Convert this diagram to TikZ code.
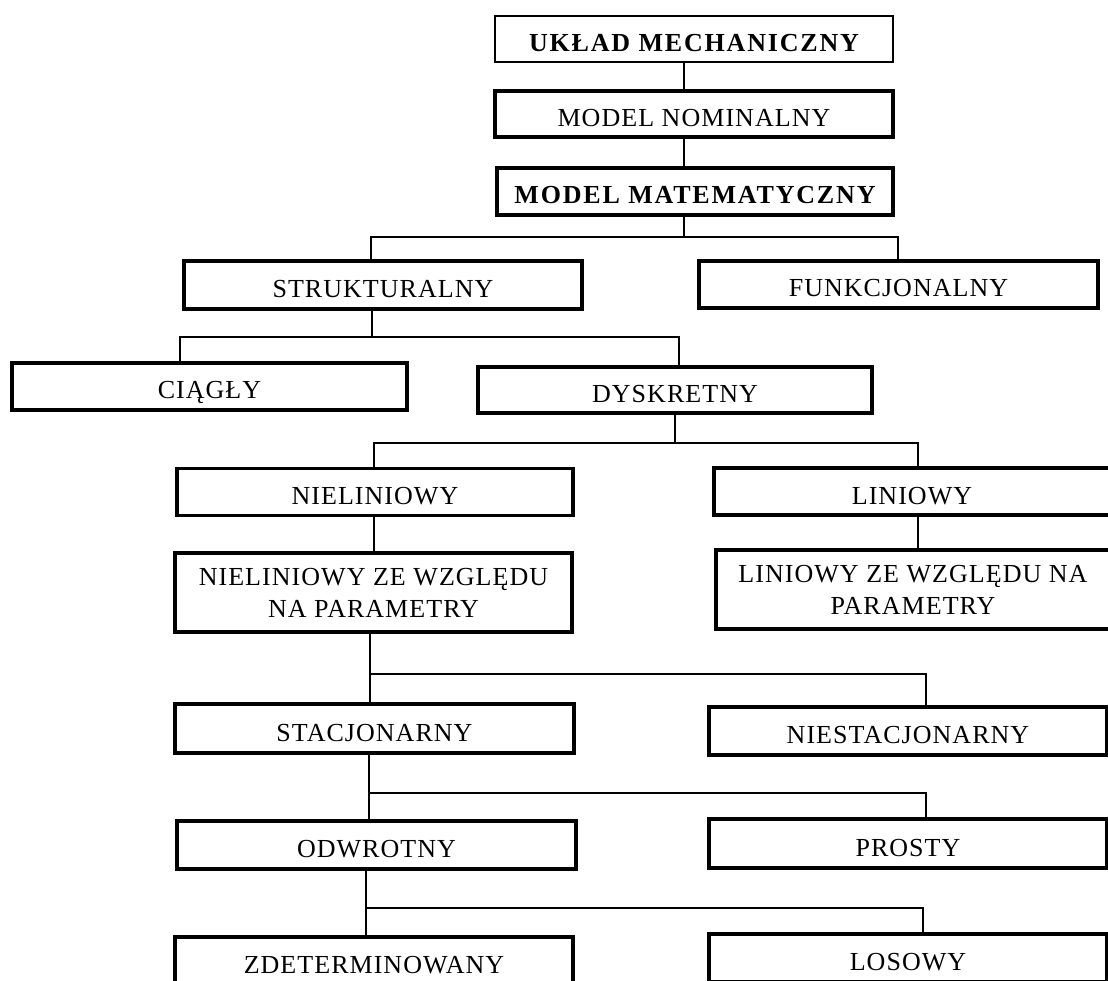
\documentclass[tikz,border=0pt]{standalone}
\usepackage{fontspec}
\setmainfont{Liberation Serif}[LetterSpace=4]
\newfontfamily\boldspaced{Liberation Serif}[LetterSpace=7]
\begin{document}
\begin{tikzpicture}[x=1pt,y=-1pt,
  box/.style={draw, rectangle, line width=3.1pt, inner sep=0pt,
    font=\fontsize{26}{31}\selectfont, text height=25pt, text depth=0pt},
  headbox/.style={box, font=\fontsize{26}{31}\boldspaced\bfseries},
  twobox/.style={draw, rectangle, line width=3.1pt, inner sep=0pt,
    font=\fontsize{26}{32}\selectfont, align=center},
  conn/.style={line width=1.6pt}]
\useasboundingbox (0,0) rectangle (1108,981);
\clip (0,0) rectangle (1108,981);

% boxes
\node[headbox, line width=2.7pt, minimum width=398, minimum height=46] (ukl) at (694,39) {UKŁAD MECHANICZNY};
\node[box, minimum width=398, minimum height=46] (nom) at (694,114) {MODEL NOMINALNY};
\node[headbox, minimum width=396, minimum height=47] (mat) at (695,191.5) {MODEL MATEMATYCZNY};
\node[box, minimum width=398, minimum height=48] (str) at (383,285) {STRUKTURALNY};
\node[box, minimum width=399, minimum height=47] (fun) at (898.5,284.5) {FUNKCJONALNY};
\node[box, minimum width=395, minimum height=47] (cia) at (209.5,386.5) {CIĄGŁY};
\node[box, minimum width=394, minimum height=46] (dys) at (675,390) {DYSKRETNY};
\node[box, minimum width=396, minimum height=47] (nie) at (375,492) {NIELINIOWY};
\node[box, minimum width=396, minimum height=47] (lin) at (912,491.5) {LINIOWY};
\node[twobox, minimum width=397, minimum height=79] (niep) at (373.5,592.5) {NIELINIOWY ZE WZGLĘDU\\NA PARAMETRY};
\node[twobox, minimum width=394, minimum height=79] (linp) at (913,589.5) {LINIOWY ZE WZGLĘDU NA\\PARAMETRY};
\node[box, minimum width=399, minimum height=49] (sta) at (374.5,728.5) {STACJONARNY};
\node[box, minimum width=398, minimum height=48] (nst) at (908,731) {NIESTACJONARNY};
\node[box, minimum width=399, minimum height=48] (odw) at (376.5,845) {ODWROTNY};
\node[box, minimum width=398, minimum height=49] (pro) at (908,843.5) {PROSTY};
\node[box, minimum width=398, minimum height=48] (zde) at (374,961) {ZDETERMINOWANY};
\node[box, minimum width=398, minimum height=48] (los) at (908,958) {LOSOWY};

% junction points of the tree
\coordinate (t0) at (684,0);
\coordinate (j1) at (684,237);
\coordinate (a1) at (371,237);
\coordinate (b1) at (898,237);
\coordinate (j2) at (372,337);
\coordinate (a2) at (180,337);
\coordinate (b2) at (679,337);
\coordinate (j3) at (675,443);
\coordinate (a3) at (374,443);
\coordinate (b3) at (918,443);
\coordinate (j4) at (370,674);
\coordinate (b4) at (926,674);
\coordinate (j5) at (369,793);
\coordinate (b5) at (926,793);
\coordinate (j6) at (366,908);
\coordinate (b6) at (923,908);

% connectors
\draw[conn] (t0 |- ukl.south) -- (t0 |- nom.north);
\draw[conn] (t0 |- nom.south) -- (t0 |- mat.north);
\draw[conn] (j1 |- mat.south) -- (j1);
\draw[conn] (a1 |- str.north) -- (a1) -- (b1) -- (b1 |- fun.north);
\draw[conn] (j2 |- str.south) -- (j2);
\draw[conn] (a2 |- cia.north) -- (a2) -- (b2) -- (b2 |- dys.north);
\draw[conn] (j3 |- dys.south) -- (j3);
\draw[conn] (a3 |- nie.north) -- (a3) -- (b3) -- (b3 |- lin.north);
\draw[conn] (a3 |- nie.south) -- (a3 |- niep.north);
\draw[conn] (b3 |- lin.south) -- (b3 |- linp.north);
\draw[conn] (j4 |- niep.south) -- (j4 |- sta.north);
\draw[conn] (j4) -- (b4) -- (b4 |- nst.north);
\draw[conn] (j5 |- sta.south) -- (j5 |- odw.north);
\draw[conn] (j5) -- (b5) -- (b5 |- pro.north);
\draw[conn] (j6 |- odw.south) -- (j6 |- zde.north);
\draw[conn] (j6) -- (b6) -- (b6 |- los.north);
\end{tikzpicture}
\end{document}
